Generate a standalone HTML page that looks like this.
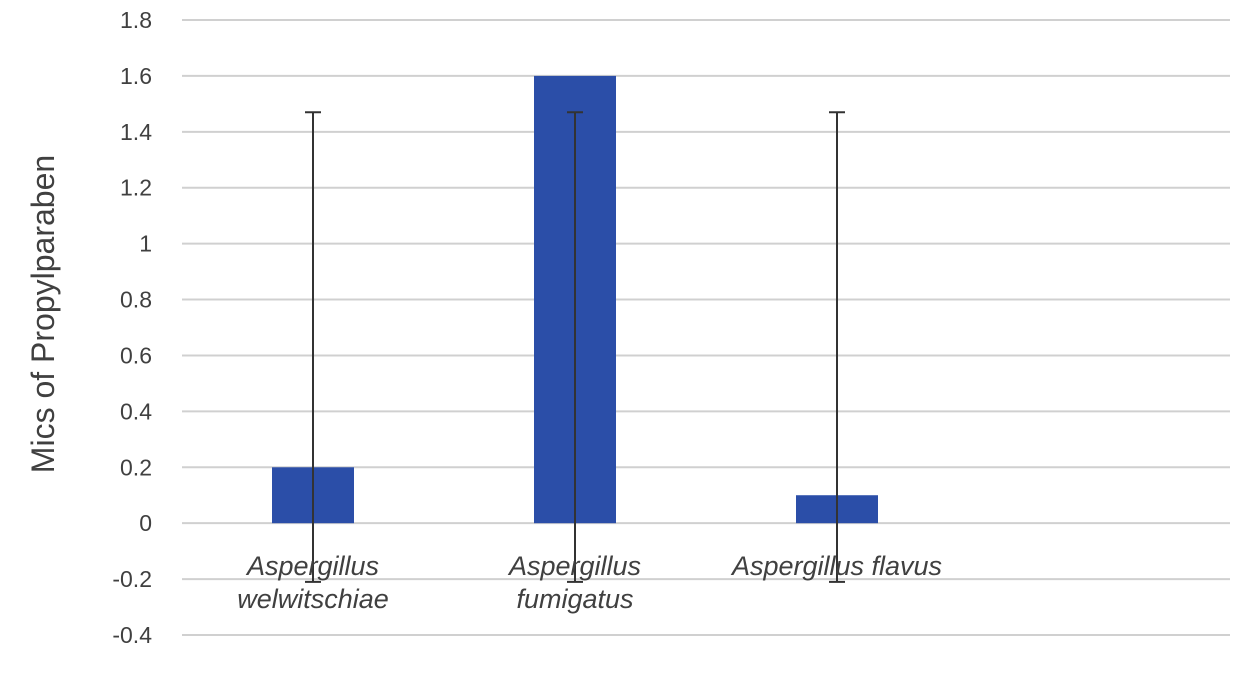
<!DOCTYPE html>
<html><head><meta charset="utf-8"><style>
body{margin:0;background:#fff;}
svg{display:block;font-family:"Liberation Sans",Arial,sans-serif;}
</style></head><body>
<svg id="chart" width="1254" height="700">
<g id="grid"></g>
<g id="yticks"></g>
<g id="bars"></g>
<g id="errs"></g>
<g id="xlabels"></g>
<text transform="translate(54,314) rotate(-90)" text-anchor="middle" font-size="32" fill="#404040">Mics of Propylparaben</text>
</svg>
<script>
const categories = [["Aspergillus","welwitschiae"],["Aspergillus","fumigatus"],["Aspergillus flavus"],[]];
const values = [0.2, 1.6, 0.1, null];
const errHigh = [1.47, 1.47, 1.47, null];
const errLow = [-0.21, -0.21, -0.21, null];
const ticks = [-0.4,-0.2,0,0.2,0.4,0.6,0.8,1,1.2,1.4,1.6,1.8];
const NS="http://www.w3.org/2000/svg";
const x0=182,x1=1230,yTop=20,yBot=635,vMin=-0.4,vMax=1.8;
const y=v=>yBot-(v-vMin)/(vMax-vMin)*(yBot-yTop);
const band=(x1-x0)/categories.length;
const cx=i=>x0+band*(i+0.5);
function mk(t,a,p){const e=document.createElementNS(NS,t);for(const k in a)e.setAttribute(k,a[k]);p.appendChild(e);return e;}
const grid=document.getElementById('grid'),yt=document.getElementById('yticks');
ticks.forEach(t=>{
 const l=mk('line',{x1:x0,x2:x1,y1:y(t),y2:y(t),stroke:'#d0d0d0','stroke-width':2},grid);
 
 
 const tx=mk('text',{x:152,y:y(t)+8,'text-anchor':'end','font-size':23,fill:'#404040'},yt);
 tx.textContent=String(t);
 
 
});
const bars=document.getElementById('bars'),errs=document.getElementById('errs'),xl=document.getElementById('xlabels');
values.forEach((v,i)=>{
 if(v==null)return;
 const b=mk('rect',{x:cx(i)-41,width:82,y:y(Math.max(v,0)),height:Math.abs(y(v)-y(0)),fill:'#2b4ea8'},bars);
 
 
 const g=mk('g',{stroke:'#333','stroke-width':2},errs);
 
 
 mk('line',{x1:cx(i),x2:cx(i),y1:y(errHigh[i]),y2:y(errLow[i])},g);
 mk('line',{x1:cx(i)-8,x2:cx(i)+8,y1:y(errHigh[i]),y2:y(errHigh[i])},g);
 mk('line',{x1:cx(i)-8,x2:cx(i)+8,y1:y(errLow[i]),y2:y(errLow[i])},g);
});
categories.forEach((c,i)=>{
 c.forEach((line,j)=>{
  const t=mk('text',{x:cx(i),y:575+j*33,'text-anchor':'middle','font-size':27,'font-style':'italic',fill:'#404040'},xl);
  t.textContent=line;
  
  
 });
});
</script>
</body></html>
